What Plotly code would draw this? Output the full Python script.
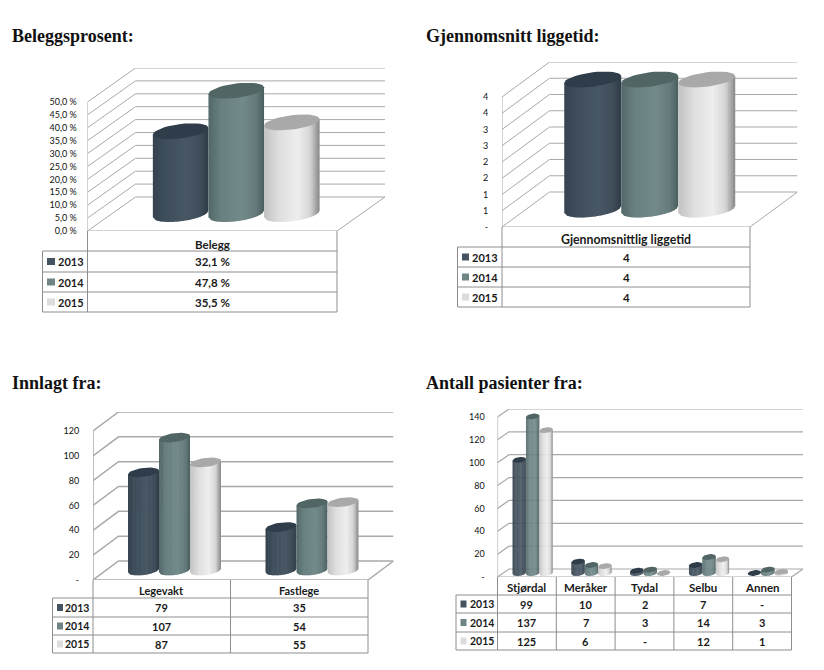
import math
import plotly.graph_objs as go

YEARS = ["2013", "2014", "2015"]

# Beleggsprosent
BELEGG_CATS = ["Belegg"]
BELEGG_2013 = [32.1]
BELEGG_2014 = [47.8]
BELEGG_2015 = [35.5]
BELEGG_TICKS = [0, 5, 10, 15, 20, 25, 30, 35, 40, 45, 50]
BELEGG_LABELS = ["0,0 %", "5,0 %", "10,0 %", "15,0 %", "20,0 %", "25,0 %", "30,0 %", "35,0 %", "40,0 %", "45,0 %", "50,0 %"]

# Gjennomsnitt liggetid
LIGGETID_CATS = ["Gjennomsnittlig liggetid"]
LIGGETID_2013 = [4]
LIGGETID_2014 = [4]
LIGGETID_2015 = [4]
LIGGETID_TICKS = [0, 0.5, 1, 1.5, 2, 2.5, 3, 3.5, 4]
LIGGETID_LABELS = ["-", "1", "1", "2", "2", "3", "3", "4", "4"]

# Innlagt fra
INNLAGT_CATS = ["Legevakt", "Fastlege"]
INNLAGT_2013 = [79, 35]
INNLAGT_2014 = [107, 54]
INNLAGT_2015 = [87, 55]
INNLAGT_TICKS = [0, 20, 40, 60, 80, 100, 120]
INNLAGT_LABELS = ["-", "20", "40", "60", "80", "100", "120"]

# Antall pasienter fra
PASIENTER_CATS = ["Stjørdal", "Meråker", "Tydal", "Selbu", "Annen"]
PASIENTER_2013 = [99, 10, 2, 7, 0]
PASIENTER_2014 = [137, 7, 3, 14, 3]
PASIENTER_2015 = [125, 6, 0, 12, 1]
PASIENTER_TICKS = [0, 20, 40, 60, 80, 100, 120, 140]
PASIENTER_LABELS = ["-", "20", "40", "60", "80", "100", "120", "140"]

W, H = 824, 670
GRID = "#a9a9a9"
TABLE_LINE = "#8e8e8e"
FONT = "Lato"

# body shade along the cylinder width, one ramp per year
RAMPS = [
    [(-1, "#34434f"), (-0.55, "#3f4e5b"), (0.2, "#485764"), (0.7, "#3f4e5a"), (1, "#2d3b47")],
    [(-1, "#536868"), (-0.55, "#688080"), (0.2, "#738a8a"), (0.7, "#657b7b"), (1, "#4a5d5d")],
    [(-1, "#c2c2c2"), (-0.45, "#dedede"), (0.2, "#eeeeee"), (0.65, "#d6d6d6"), (1, "#868686")],
]
CAP_COLORS = ["#2e3d49", "#516565", "#a9a9a9"]
KEY_COLORS = ["#44535f", "#6f8585", "#dcdcdc"]

CHARTS = [
    dict(title="Beleggsprosent:", title_x=10, title_y=36,
         cats=BELEGG_CATS, series=[BELEGG_2013, BELEGG_2014, BELEGG_2015],
         ticks=BELEGG_TICKS, labels=BELEGG_LABELS, fmt="pct",
         left=87.5, right=337, y0=231, ytop=102, dx=48, dy=34, r=27.8, b=7.2, standoff=8, grid_w=1,
         tleft=42.5, rows=[231, 251, 272, 292, 312], head_dy=4, head_size=11.5, cell_size=11, key=8),
    dict(title="Gjennomsnitt liggetid:", title_x=424, title_y=36,
         cats=LIGGETID_CATS, series=[LIGGETID_2013, LIGGETID_2014, LIGGETID_2015],
         ticks=LIGGETID_TICKS, labels=LIGGETID_LABELS, fmt="int",
         left=502, right=750, y0=227, ytop=97, dx=47.5, dy=35, r=28.5, b=7.2, standoff=11, grid_w=1,
         tleft=457.5, rows=[227, 247, 267, 287, 307], head_dy=3, head_size=12.3, cell_size=11, key=7),
    dict(title="Innlagt fra:", title_x=10, title_y=383,
         cats=INNLAGT_CATS, series=[INNLAGT_2013, INNLAGT_2014, INNLAGT_2015],
         ticks=INNLAGT_TICKS, labels=INNLAGT_LABELS, fmt="int",
         left=93, right=368, y0=580, ytop=431, dx=25.5, dy=19, r=15.5, b=4.5, standoff=11, grid_w=1.5,
         tleft=52.5, rows=[580, 598, 617, 635, 653], head_dy=2, head_size=11, cell_size=10.5, key=6),
    dict(title="Antall pasienter fra:", title_x=424, title_y=383,
         cats=PASIENTER_CATS, series=[PASIENTER_2013, PASIENTER_2014, PASIENTER_2015],
         ticks=PASIENTER_TICKS, labels=PASIENTER_LABELS, fmt="int",
         left=497.5, right=791.5, y0=577, ytop=417, dx=11.5, dy=8, r=6.7, b=2.8, standoff=10, grid_w=1.2,
         tleft=456, rows=[577, 595, 613, 632, 650], head_dy=2, head_size=11.5, cell_size=10.5, key=6),
]


def px(x):
    return x / W


def py(y):
    return 1 - y / H


def hex_rgb(c):
    return [int(c[i:i + 2], 16) for i in (1, 3, 5)]


def ramp_color(ramp, u):
    for (u0, c0), (u1, c1) in zip(ramp, ramp[1:]):
        if u <= u1:
            t = (u - u0) / (u1 - u0)
            a, b = hex_rgb(c0), hex_rgb(c1)
            return "rgb(%d,%d,%d)" % tuple(round(p + (q - p) * t) for p, q in zip(a, b))
    return ramp[-1][1]


def cell_text(value, fmt):
    if fmt == "pct":
        return f"{value:.1f} %".replace(".", ",")
    return "-" if value == 0 else str(value)


def label(text, x, y, xanchor="center", family=FONT, size=11.5, color="#1a1a1a"):
    return dict(text=text, x=px(x), y=py(y), xref="paper", yref="paper", xanchor=xanchor, yanchor="middle",
                showarrow=False, font=dict(family=family, size=size, color=color))


fig = go.Figure()
shapes = []
annotations = []
layout_axes = {}
STRIPS = 24

for k, c in enumerate(CHARTS):
    n = len(c["cats"])
    vmax = c["ticks"][-1]
    fw = c["right"] - c["left"]          # front width in pixels
    fh = c["y0"] - c["ytop"]             # front height in pixels
    cat_px = n / fw                      # categories per pixel
    val_px = vmax / fh                   # value units per pixel
    ddx = c["dx"] * cat_px
    ddy = c["dy"] * val_px
    xname, yname = f"x{k + 1}", f"y{k + 1}"
    suffix = "" if k == 0 else str(k + 1)

    layout_axes["xaxis" + suffix] = dict(
        domain=[px(c["left"]), px(c["right"] + c["dx"])], range=[0, n + ddx],
        visible=False, anchor=yname, fixedrange=True, automargin=False)
    layout_axes["yaxis" + suffix] = dict(
        domain=[py(c["y0"]), py(c["ytop"] - c["dy"])], range=[0, vmax + ddy],
        anchor=xname, showgrid=False, zeroline=False, showline=False, fixedrange=True, automargin=False,
        tickmode="array", tickvals=c["ticks"], ticktext=c["labels"],
        ticks="outside", ticklen=c["standoff"], tickcolor="rgba(0,0,0,0)",
        tickfont=dict(family=FONT, size=9, color="#111111"))

    # walls: oblique line from the axis to the back wall, then across it
    gx, gy = [0, 0, None], [0, vmax, None]
    for v in c["ticks"]:
        gx += [0, ddx, n + ddx, None]
        gy += [v, v + ddy, v + ddy, None]
    gx += [0, n, n + ddx]
    gy += [0, 0, ddy]
    fig.add_trace(go.Scatter(x=gx, y=gy, mode="lines", line=dict(color=GRID, width=c["grid_w"]),
                             xaxis=xname, yaxis=yname, hoverinfo="skip", showlegend=False))

    # cylinders
    r = c["r"] * cat_px
    b = c["b"] * val_px
    tilt = 0.12 * c["r"] * val_px        # right side of an ellipse sits higher
    for j, values in enumerate(c["series"]):
        for s in range(STRIPS):
            u0 = -1 + 2 * s / STRIPS
            u1 = min(1, -1 + 2 * (s + 1.5) / STRIPS)   # overlap a bit so no seams show
            xs, ys = [], []
            for i, v in enumerate(values):
                if v == 0:
                    continue
                cx = i + 0.5 + (j - 1) * 2 * r + ddx / 2
                base = ddy / 2
                xs += [cx + r * u0, cx + r * u1, cx + r * u1, cx + r * u0, None]
                ys += [base - b * math.sqrt(1 - u0 * u0) + tilt * u0,
                       base - b * math.sqrt(1 - u1 * u1) + tilt * u1,
                       base + v + tilt * u1,
                       base + v + tilt * u0, None]
            fig.add_trace(go.Scatter(x=xs, y=ys, mode="lines", fill="toself", line=dict(width=0),
                                     fillcolor=ramp_color(RAMPS[j], (u0 + 2 / STRIPS / 2)),
                                     xaxis=xname, yaxis=yname, hoverinfo="skip", showlegend=False))
        xs, ys = [], []
        for i, v in enumerate(values):
            cx = i + 0.5 + (j - 1) * 2 * r + ddx / 2
            base = ddy / 2
            for a in range(41):
                t = 2 * math.pi * a / 40
                xs.append(cx + r * math.cos(t))
                ys.append(base + v + b * math.sin(t) + tilt * math.cos(t))
            xs.append(None)
            ys.append(None)
        fig.add_trace(go.Scatter(x=xs, y=ys, mode="lines", fill="toself", line=dict(width=0),
                                 fillcolor=CAP_COLORS[j], xaxis=xname, yaxis=yname,
                                 hoverinfo="skip", showlegend=False))

    # title
    annotations.append(label(f"<b>{c['title']}</b>", c["title_x"], c["title_y"], xanchor="left",
                             family="Liberation Serif", size=18, color="#111111"))

    # data table under the chart
    rows = c["rows"]
    cols = [c["left"] + fw * i / n for i in range(n + 1)]
    lines = [(cols[i], rows[0], cols[i], rows[4]) for i in range(n + 1)]
    lines += [(c["tleft"], y, c["right"], y) for y in rows[2:]]
    lines += [(c["left"], rows[1], c["right"], rows[1]), (c["tleft"], rows[1], c["left"], rows[1])]
    lines += [(c["tleft"], rows[1], c["tleft"], rows[4])]
    for x0, y0, x1, y1 in lines:
        shapes.append(dict(type="line", xref="paper", yref="paper", x0=px(x0), x1=px(x1), y0=py(y0), y1=py(y1),
                           line=dict(color=TABLE_LINE, width=1)))
    for i, name in enumerate(c["cats"]):
        annotations.append(label(f"<b>{name}</b>", (cols[i] + cols[i + 1]) / 2,
                                 (rows[0] + rows[1]) / 2 + c["head_dy"] - 1, size=c["head_size"]))
    for j, year in enumerate(YEARS):
        ym = (rows[j + 1] + rows[j + 2]) / 2
        kw = c["key"]
        shapes.append(dict(type="rect", xref="paper", yref="paper", line=dict(width=0), fillcolor=KEY_COLORS[j],
                           x0=px(c["tleft"] + 4.5), x1=px(c["tleft"] + 4.5 + kw),
                           y0=py(ym - 3.5), y1=py(ym + 3.5)))
        annotations.append(label(f"<b>{year}</b>", c["left"] - 2, ym, xanchor="right", size=c["cell_size"]))
        for i, v in enumerate(c["series"][j]):
            annotations.append(label(f"<b>{cell_text(v, c['fmt'])}</b>", (cols[i] + cols[i + 1]) / 2, ym,
                                     size=c["cell_size"] + 0.5))

fig.update_layout(width=W, height=H, margin=dict(l=0, r=0, t=0, b=0), paper_bgcolor="white",
                  plot_bgcolor="rgba(0,0,0,0)", showlegend=False, shapes=shapes, annotations=annotations,
                  **layout_axes)

fig.write_html("out.html", config=dict(displayModeBar=False),
               post_script="document.body.style.margin='0';document.body.style.overflow='hidden';")
